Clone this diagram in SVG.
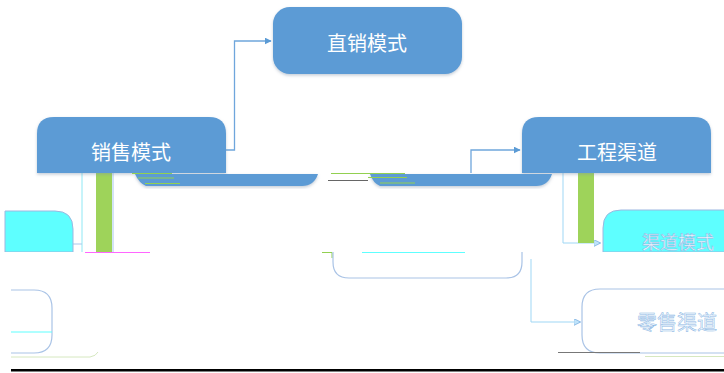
<svg xmlns="http://www.w3.org/2000/svg" width="724" height="373" viewBox="0 0 724 373">
<style>
.main{fill:#5B9BD5;}
.lbl{font-family:"Noto Sans CJK SC","Noto Sans",sans-serif;font-size:20px;fill:#ffffff;text-anchor:middle;dominant-baseline:central;}
.lbl2{font-family:"Noto Sans CJK SC","Noto Sans",sans-serif;font-size:20px;fill:#F4FAFF;stroke:#8DB8E4;stroke-width:0.5;text-anchor:middle;dominant-baseline:central;}
.conn{fill:none;stroke:#6FA6DC;stroke-width:1.3;}
.thin{fill:none;stroke-width:1;}
.bar{fill:#9ED35A;}
</style>
<defs>
<marker id="ah" viewBox="0 0 10 10" refX="9" refY="5" markerWidth="7" markerHeight="7" orient="auto" markerUnits="userSpaceOnUse"><path d="M0,0 L10,5 L0,10 Z" fill="#5B9BD5"/></marker>
<marker id="ahl" viewBox="0 0 10 10" refX="9" refY="5" markerWidth="7" markerHeight="7" orient="auto" markerUnits="userSpaceOnUse"><path d="M0,0 L10,5 L0,10 Z" fill="#BFE3FA" stroke="#6FA6DC" stroke-width="1"/></marker>
<filter id="sh" x="-10%" y="-10%" width="120%" height="130%"><feDropShadow dx="0" dy="1.5" stdDeviation="1.5" flood-color="#7A8FA6" flood-opacity="0.45"/></filter>
<clipPath id="cR"><rect x="0" y="0" width="724" height="252"/></clipPath>
</defs>

<g id="connectors">
<path class="conn" d="M226,150 H234.5 V41 H271" marker-end="url(#ah)"/>
<path class="conn" d="M471,173 V150 H520" marker-end="url(#ah)"/>
<path class="thin" stroke="#9FD7F5" d="M563,173 V243 H600" marker-end="url(#ahl)"/>
<path class="thin" stroke="#9FD7F5" stroke-width="1.5" d="M531,259 V322 H580" marker-end="url(#ahl)"/>
<path class="thin" stroke="#8FE8F5" d="M82,173 V252"/>
<path class="thin" stroke="#A7C8EC" d="M73,244 H82"/>
<path class="thin" stroke="#A7C8EC" d="M113,173 V252"/>
<path class="thin" stroke="#FF66FF" stroke-width="1.5" d="M85,252.5 H150"/>
</g>

<g id="bars">
<rect class="bar" x="96" y="173" width="16" height="79"/>
<rect class="bar" x="578" y="173" width="16" height="70"/>
</g>

<g id="node-zhixiao">
<rect class="main" x="273" y="7" width="189" height="67" rx="17" filter="url(#sh)"/>
<text class="lbl" x="367" y="42">直销模式</text>
</g>

<g id="node-xiaoshou">
<path class="main" d="M37,173 V134 Q37,117 54,117 H209 Q226,117 226,134 V173 Z" filter="url(#sh)"/>
<text class="lbl" x="131" y="151">销售模式</text>
</g>

<g id="node-gongcheng">
<path class="main" d="M522,173 V134 Q522,117 539,117 H694 Q711,117 711,134 V173 Z" filter="url(#sh)"/>
<text class="lbl" x="617" y="151">工程渠道</text>
</g>

<g id="strips">
<path class="main" d="M135,174 H318 Q314,186 302,186 H146 Q139,183 135,174 Z" filter="url(#sh)"/>
<path class="main" d="M370,174 H552 Q548,186 536,186 H380 Q373,183 370,174 Z" filter="url(#sh)"/>
<g class="thin" stroke="#92D050">
<path d="M132,173.5 H172"/><path d="M138,178 H174"/><path d="M145,183.5 H180"/>
<path d="M331,173.5 H405"/><path d="M368,177.5 H407"/><path d="M380,183 H415"/>
<path d="M322,252.5 H332 V258"/>
</g>
<path class="thin" stroke="#666" d="M328,180.5 H368"/>
</g>

<g id="node-qudao">
<path d="M603,252 V228 Q603,210 621,210 H730 V252 Z" fill="#5EFFFF" stroke="#9DB7E0" stroke-width="1" clip-path="url(#cR)"/>
<text class="lbl2" x="678" y="241" style="font-size:18px">渠道模式</text>
</g>

<g id="node-left-cyan" clip-path="url(#cR)">
<path d="M5,252 V211 H55 Q73,211 73,229 V252 Z" fill="#5EFFFF" stroke="#9DB7E0" stroke-width="1"/>
</g>

<g id="node-middle">
<path d="M333,252 V262 Q333,278 349,278 H506 Q522,278 522,262 V252" fill="#ffffff" stroke="#A9C3E6" stroke-width="1.2"/>
<path class="thin" stroke="#5EFFFF" stroke-width="2" d="M362,252.5 H465"/>
</g>

<g id="node-left-white">
<path d="M11,290 H34 Q52,290 52,308 V335 Q52,353 34,353 H11" fill="#ffffff" stroke="#A9C3E6" stroke-width="1.2"/>
<path class="thin" stroke="#5EFFFF" stroke-width="1.5" d="M11,332 H52"/>
<path class="thin" stroke="#D6E8C0" stroke-width="1.5" d="M11,357 H90 Q96,356 98,352"/>
</g>

<g id="node-lingshou">
<path d="M724,289 H600 Q582,289 582,307 V335 Q582,353 600,353 H724" fill="#ffffff" stroke="#A9C3E6" stroke-width="1.2"/>
<text class="lbl2" x="677" y="321">零售渠道</text>
<path class="thin" stroke="#777" d="M558,352.5 H640"/>
<path class="thin" stroke="#D6E8C0" stroke-width="1.5" d="M645,356.5 H724"/>
</g>

<rect x="11" y="369" width="713" height="2.5" fill="#000000"/>
</svg>
